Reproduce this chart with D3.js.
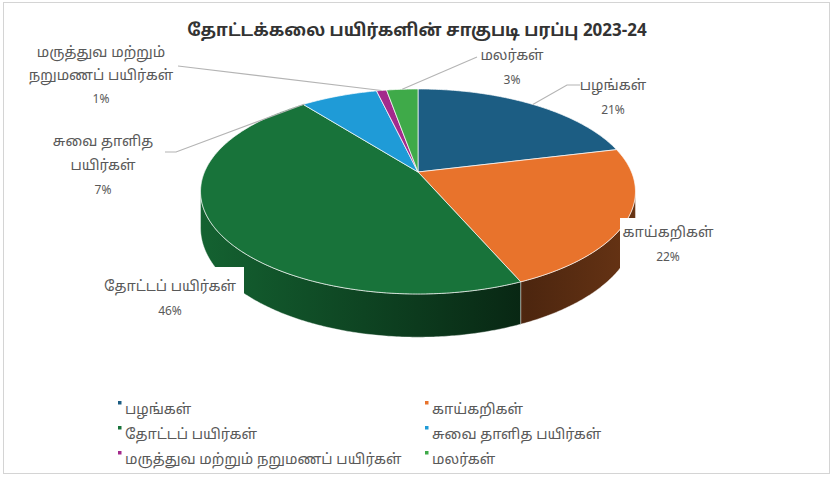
<!DOCTYPE html>
<html>
<head>
<meta charset="utf-8">
<script src="https://cdn.jsdelivr.net/npm/d3@7"></script>
<style>
  html, body { margin: 0; padding: 0; background: #fff; }
  svg { display: block; }
  text { font-family: "Noto Sans Tamil", "Latha", "Noto Sans", "DejaVu Sans", sans-serif; }
</style>
</head>
<body>
<svg id="chart" width="832" height="477"></svg>
<script>
// ---- data ----
const title = "தோட்டக்கலை பயிர்களின் சாகுபடி பரப்பு 2023-24";
const categories = ["பழங்கள்", "காய்கறிகள்", "தோட்டப் பயிர்கள்", "சுவை தாளித பயிர்கள்", "மருத்துவ மற்றும் நறுமணப் பயிர்கள்", "மலர்கள்"];
const shares = [21.2, 22.3, 45.9, 6.9, 0.9, 2.8];
const colors = ["#1c5d83", "#e8732c", "#18733a", "#1f9bd7", "#a32a8c", "#3faa49"];
// data-label text lines (as wrapped in the chart)
const labelLines = [["பழங்கள்"], ["காய்கறிகள்"], ["தோட்டப் பயிர்கள்"], ["சுவை தாளித", "பயிர்கள்"], ["மருத்துவ மற்றும்", "நறுமணப் பயிர்கள்"], ["மலர்கள்"]];

// ---- layout ----
const svg = d3.select("#chart");
const cx = 418, cy = 172, R = 213.5, A = 98.8, persp = 0.19, depth = 35;

// chart border
svg.append("rect").attr("x", 3.5).attr("y", 2.5).attr("width", 826).attr("height", 471)
  .attr("fill", "#fff").attr("stroke", "#d4d4d4").attr("stroke-width", 1);

svg.append("text").attr("x", 417).attr("y", 36).attr("text-anchor", "middle")
  .attr("font-size", 17).attr("font-weight", "bold").attr("fill", "#333")
  .text(title);

const pie = d3.pie().sort(null).value(d => d);
const arcs = pie(shares);

function proj(t, z) {
  const u = Math.sin(t), v = Math.cos(t);
  const k = 1 / (1 + persp * v);
  return [cx + R * u * k, cy - A * v * k + z * depth * k];
}
function rimPts(a0, a1, z) {
  const n = Math.max(2, Math.ceil((a1 - a0) / 0.01));
  return d3.range(n + 1).map(i => proj(a0 + (a1 - a0) * i / n, z));
}
const line = d3.line();

const defs = svg.append("defs");
function shade(c, f) {
  const col = d3.rgb(c);
  return d3.rgb(col.r * f, col.g * f, col.b * f).toString();
}
const shadeStops = [[0, 0.85], [0.5, 0.5], [0.75, 0.33], [1, 0.45]];
arcs.forEach((a, i) => {
  const g = defs.append("linearGradient").attr("id", "side" + i)
    .attr("gradientUnits", "userSpaceOnUse")
    .attr("x1", cx - R * 1.02).attr("x2", cx + R * 1.02).attr("y1", 0).attr("y2", 0);
  shadeStops.forEach(s => g.append("stop").attr("offset", s[0]).attr("stop-color", shade(colors[i], s[1])));
});

// side walls (visible front part only)
const vis0 = Math.acos(-persp), vis1 = 2 * Math.PI - Math.acos(-persp);
const sides = svg.append("g");
arcs.forEach((a, i) => {
  const s = Math.max(a.startAngle, vis0), e = Math.min(a.endAngle, vis1);
  if (e <= s) return;
  const top = rimPts(s, e, 0), bot = rimPts(s, e, 1).reverse();
  sides.append("path").attr("d", line(top.concat(bot)) + "Z")
    .attr("fill", `url(#side${i})`).attr("stroke", "rgba(255,255,255,0.5)").attr("stroke-width", 0.8);
});

// top faces
const tops = svg.append("g");
arcs.forEach((a, i) => {
  const pts = [[cx, cy]].concat(rimPts(a.startAngle, a.endAngle, 0));
  tops.append("path").attr("d", line(pts) + "Z")
    .attr("fill", colors[i]).attr("stroke", "rgba(255,255,255,0.7)").attr("stroke-width", 1);
});

// data labels
const pct = d3.format(".0%");
const labelPos = [
  { x: 613, y: 90, gap: 24, anchorFrac: 0.5, leader: [[580, 85], [567, 85]] },
  { x: 668, y: 237, gap: 24, box: [620, 218, 96, 52] },
  { x: 170, y: 291, gap: 24, box: [96, 267, 148, 56] },
  { x: 103, y: 146, gap: 24, anchorFrac: 0.02, leader: [[165, 152], [176, 152]] },
  { x: 101, y: 57, gap: 23, anchorFrac: 0.5, leader: [[178, 66]] },
  { x: 512, y: 60, gap: 24, anchorFrac: 0.5, leader: [[477, 57]] }
];
const labG = svg.append("g");
arcs.forEach((a, i) => {
  const L = labelPos[i];
  if (L.leader) {
    const t = a.startAngle + (a.endAngle - a.startAngle) * L.anchorFrac;
    const pts = L.leader.concat([proj(t, 0)]);
    labG.append("path").attr("d", line(pts)).attr("fill", "none")
      .attr("stroke", "#b4b4b4").attr("stroke-width", 1.1);
  }
  if (L.box) {
    labG.append("rect").attr("x", L.box[0]).attr("y", L.box[1]).attr("width", L.box[2]).attr("height", L.box[3]).attr("fill", "#fff");
  }
  const lines = labelLines[i].concat([pct(shares[i] / 100)]);
  lines.forEach((s, j) => {
    labG.append("text").attr("x", L.x).attr("y", L.y + j * L.gap)
      .attr("text-anchor", "middle")
      .attr("font-size", j === lines.length - 1 ? 12 : 14.5)
      .attr("fill", "#595959").text(s);
  });
});

// legend
const legX = [118, 425], legY = [409, 434, 459];
const leg = svg.append("g");
categories.forEach((c, i) => {
  const col = i % 2, row = Math.floor(i / 2);
  const x = legX[col], y = legY[row];
  leg.append("rect").attr("x", x).attr("y", y - 8).attr("width", 3.5).attr("height", 3.5).attr("fill", colors[i]);
  leg.append("text").attr("x", x + 7).attr("y", y + 5).attr("font-size", 14.5).attr("fill", "#595959").text(c);
});
</script>
</body>
</html>
